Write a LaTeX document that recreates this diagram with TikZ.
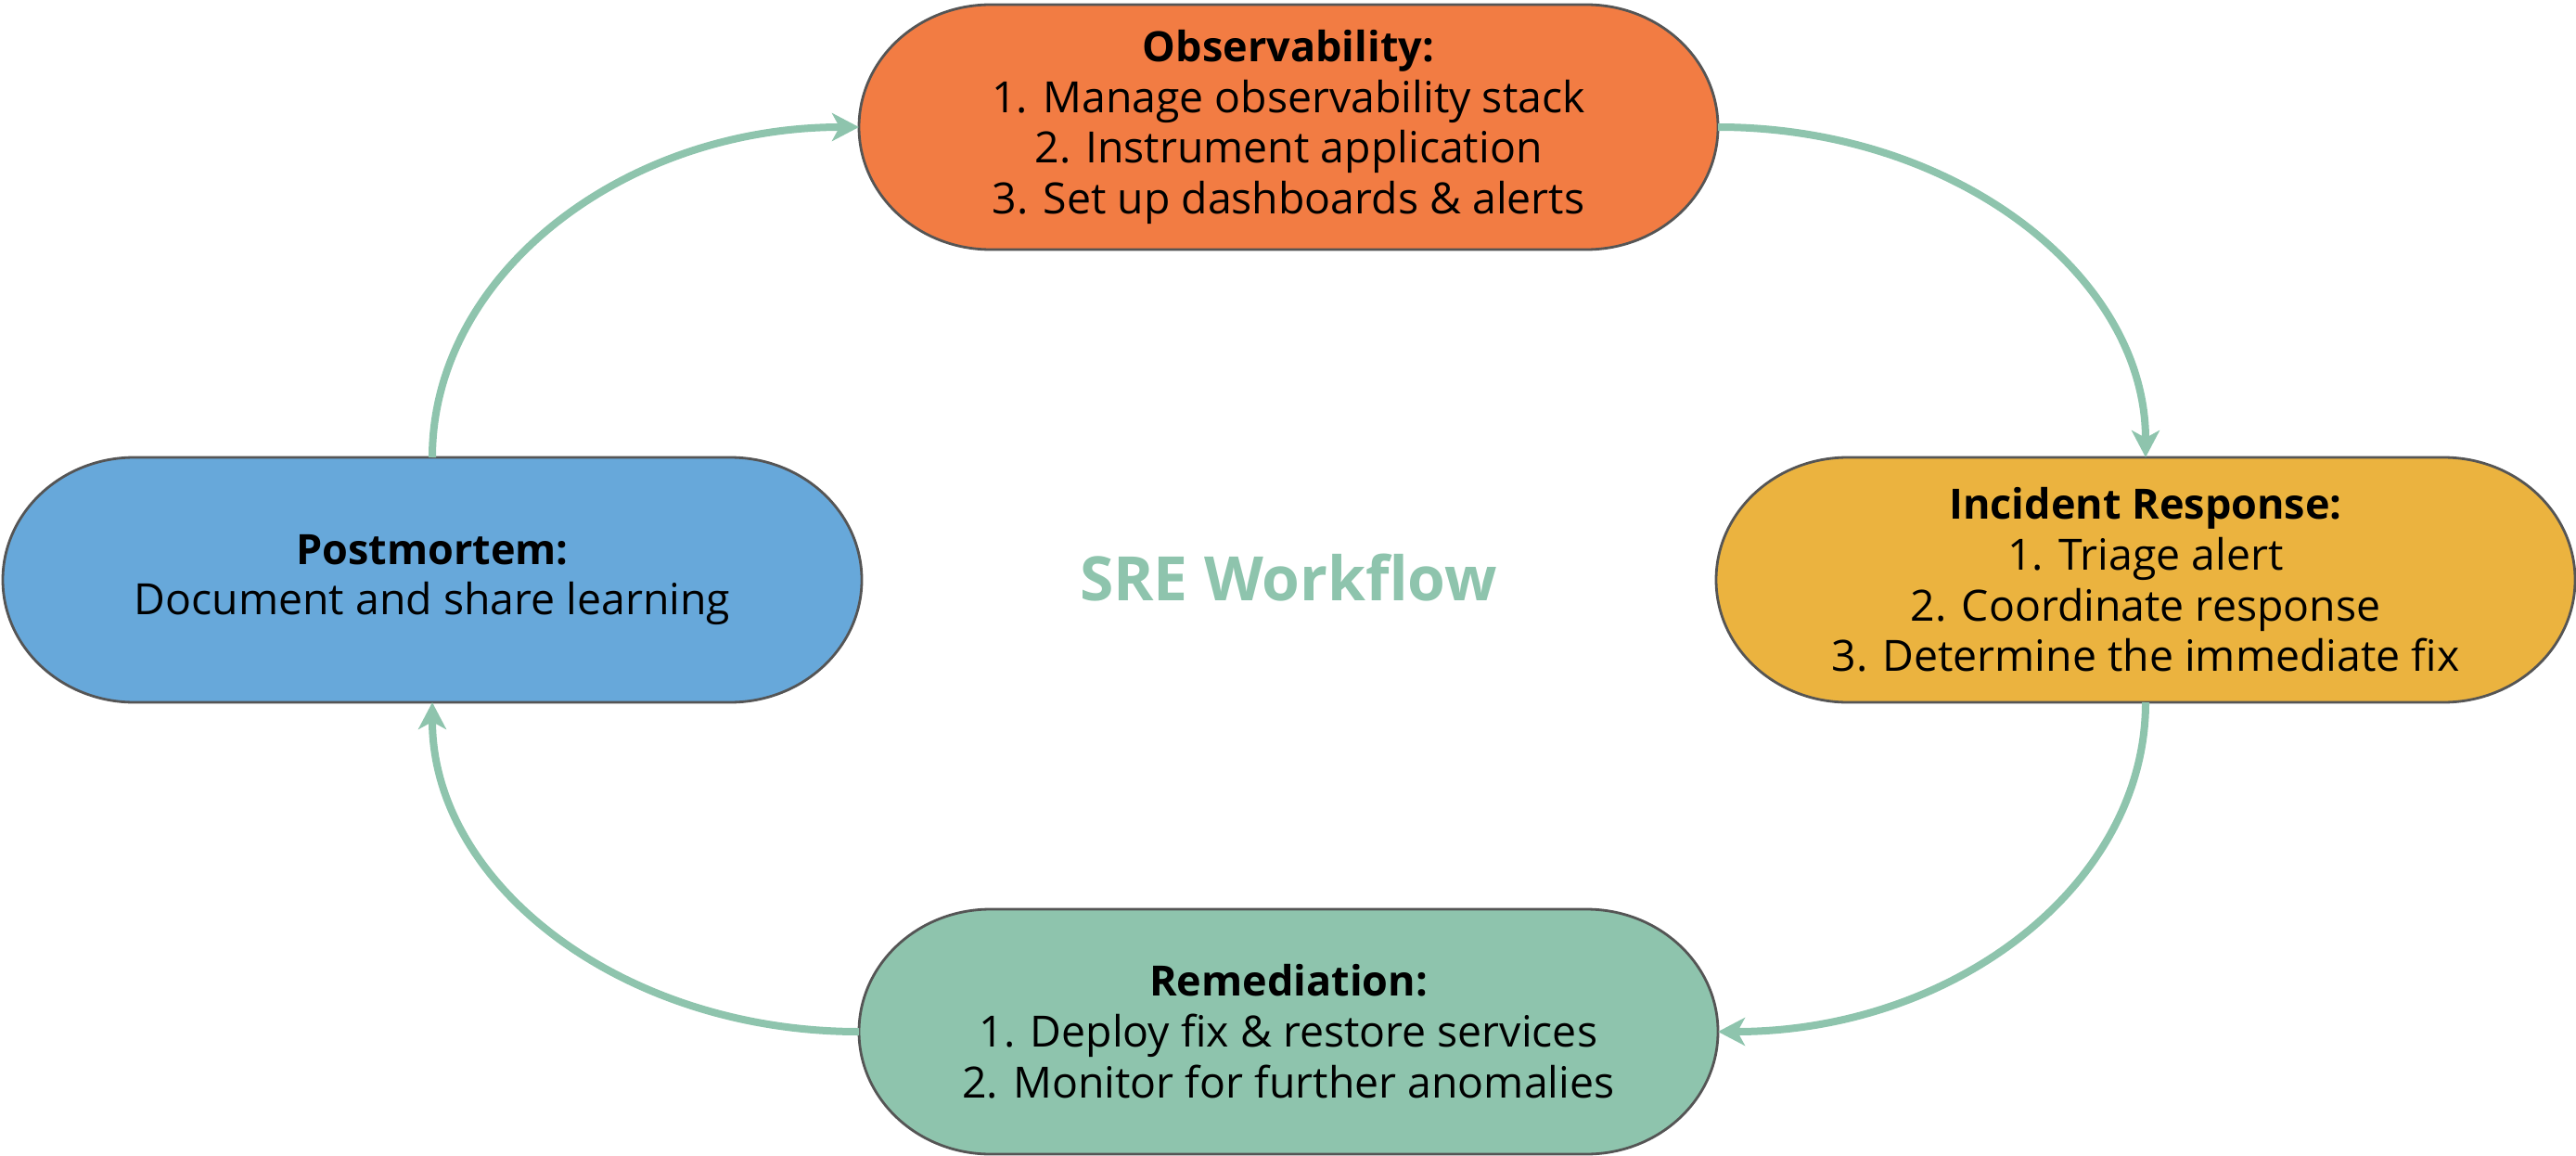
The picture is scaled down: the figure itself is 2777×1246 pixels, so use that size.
\documentclass[tikz,border=0pt]{standalone}
\usepackage{fontspec}
\setmainfont{Open Sans}
\usetikzlibrary{arrows.meta,backgrounds}
\definecolor{obsfill}{HTML}{F27C43}
\definecolor{irfill}{HTML}{EBB33F}
\definecolor{pmfill}{HTML}{67A8DA}
\definecolor{remfill}{HTML}{8EC4AD}
\definecolor{flowgreen}{HTML}{8EC4AD}
\definecolor{edgegray}{HTML}{555555}
\newcommand\stagehead[1]{{\fontsize{22.5}{27.4}\selectfont\bfseries #1}}
\tikzset{
  stage/.style={rectangle, draw=none, outer sep=0pt, inner sep=0pt,
    minimum width=463pt, minimum height=132pt, align=center,
    font=\fontsize{23.2}{27.4}\selectfont},
  flow/.style={draw=flowgreen, line width=4pt,
    -{Stealth[length=14.5pt,width=15pt,inset=4pt]}},
  hub/.style={font=\fontsize{33}{40}\selectfont\bfseries, text=flowgreen}
}
\newcommand\stadiumshape[2]{%
  \filldraw[fill=#2, draw=edgegray, line width=1.4pt]
    ([xshift=71pt]#1.north west) -- ([xshift=-71pt]#1.north east)
    arc[start angle=90, end angle=-90, x radius=71pt, y radius=66pt]
    -- ([xshift=71pt]#1.south west)
    arc[start angle=270, end angle=90, x radius=71pt, y radius=66pt]
    -- cycle;}
\begin{document}
\begin{tikzpicture}[x=0.5pt, y=-0.5pt]
  \useasboundingbox (0,0) rectangle (2777,1246);
  \node[stage] (obs) at (1389,137)
    {\stagehead{Observability:}\\1. Manage observability stack\\2. Instrument application\\3. Set up dashboards \& alerts};
  \node[stage] (ir) at (2313,625)
    {\stagehead{Incident Response:}\\1. Triage alert\\2. Coordinate response\\3. Determine the immediate fix};
  \node[stage] (pm) at (466,625)
    {\stagehead{Postmortem:}\\Document and share learning};
  \node[stage] (rem) at (1389,1112)
    {\stagehead{Remediation:}\\1. Deploy fix \& restore services\\2. Monitor for further anomalies};
  \node[hub] (title) at (1389,623) {SRE Workflow};
  \begin{pgfonlayer}{background}
    \stadiumshape{obs}{obsfill}
    \stadiumshape{ir}{irfill}
    \stadiumshape{pm}{pmfill}
    \stadiumshape{rem}{remfill}
    \draw[flow] (obs.east) .. controls +(254,0) and +(0,-197) .. (ir.north);
    \draw[flow] (ir.south) .. controls +(0,197) and +(254,0) .. (rem.east);
    \draw[flow] (rem.west) .. controls +(-254,0) and +(0,197) .. (pm.south);
    \draw[flow] (pm.north) .. controls +(0,-197) and +(-254,0) .. (obs.west);
  \end{pgfonlayer}
\end{tikzpicture}
\end{document}
